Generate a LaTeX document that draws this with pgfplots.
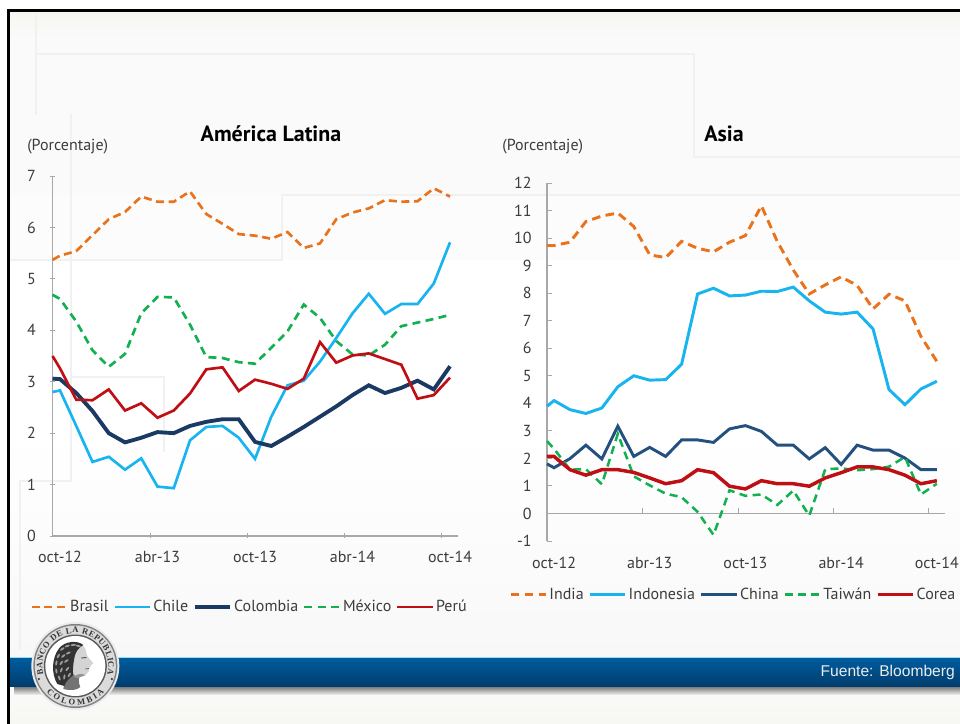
\documentclass[border=0pt]{standalone}
\usepackage{fontspec}
\usepackage{pgfplots}
\usepackage{pgfplotstable}
\pgfplotsset{compat=1.18}
\usetikzlibrary{decorations.text}
\setmainfont{PT Sans}
\newfontfamily\fuente{Liberation Sans}
\newfontfamily\sello{Liberation Serif}[BoldFont={Liberation Serif Bold}]
\definecolor{cOr}{HTML}{E9731C}
\definecolor{cBl}{HTML}{18B4F0}
\definecolor{cNa}{HTML}{1B3A63}
\definecolor{cCh}{HTML}{24507F}
\definecolor{cGr}{HTML}{12B050}
\definecolor{cRe}{HTML}{C00F14}
\definecolor{cTx}{HTML}{3C3C3C}
\definecolor{cAx}{HTML}{A8A8A8}
\definecolor{cFaint}{HTML}{F1F1F1}
\definecolor{cBgA}{HTML}{F6F6F1}
\definecolor{cBgB}{HTML}{FAFAFA}
\definecolor{cBgC}{HTML}{F8F8F8}
\definecolor{cBgD}{HTML}{F7F7F3}

\pgfplotstableread{
x     brasil chile colombia mexico peru
-0.46 5.37 2.80 3.06 4.69 3.50
0  5.45 2.83 3.05 4.61 3.26
1  5.54 2.14 2.78 4.17 2.65
2  5.85 1.44 2.43 3.61 2.64
3  6.16 1.54 2.00 3.29 2.85
4  6.30 1.29 1.82 3.54 2.44
5  6.60 1.51 1.91 4.33 2.58
6  6.50 0.96 2.02 4.65 2.30
7  6.50 0.93 2.00 4.64 2.44
8  6.70 1.86 2.14 4.11 2.77
9  6.26 2.12 2.22 3.48 3.24
10 6.07 2.14 2.27 3.46 3.28
11 5.87 1.91 2.27 3.38 2.82
12 5.84 1.50 1.83 3.35 3.04
13 5.78 2.32 1.75 3.66 2.96
14 5.91 2.93 1.93 3.98 2.86
15 5.60 3.02 2.12 4.50 3.06
16 5.69 3.39 2.32 4.24 3.77
17 6.16 3.85 2.52 3.79 3.37
18 6.29 4.33 2.74 3.53 3.51
19 6.37 4.71 2.93 3.51 3.55
20 6.53 4.32 2.78 3.72 3.44
21 6.50 4.51 2.88 4.08 3.33
22 6.51 4.51 3.02 4.15 2.67
23 6.76 4.91 2.85 4.22 2.74
24 6.60 5.71 3.30 4.30 3.08
}\latam

\pgfplotstableread{
x     india indonesia china taiwan corea
-0.44 9.73 3.89 1.80 2.63 2.07
0  9.73 4.10 1.66 2.35 2.07
1  9.85 3.77 1.99 1.59 1.59
2  10.60 3.63 2.48 1.61 1.39
3  10.80 3.83 1.98 1.06 1.59
4  10.91 4.60 3.17 2.89 1.59
5  10.42 5.00 2.07 1.35 1.49
6  9.39 4.84 2.40 1.02 1.29
7  9.29 4.86 2.07 0.72 1.08
8  9.88 5.42 2.67 0.59 1.19
9  9.63 7.97 2.67 0.06 1.59
10 9.50 8.18 2.58 -0.78 1.48
11 9.85 7.90 3.07 0.84 0.99
12 10.09 7.93 3.19 0.64 0.89
13 11.17 8.07 2.98 0.69 1.19
14 9.87 8.06 2.48 0.31 1.08
15 8.84 8.22 2.48 0.83 1.08
16 7.97 7.72 1.98 -0.08 0.99
17 8.30 7.31 2.39 1.60 1.29
18 8.59 7.24 1.78 1.64 1.48
19 8.28 7.31 2.48 1.57 1.69
20 7.43 6.70 2.30 1.61 1.69
21 7.96 4.50 2.30 1.70 1.59
22 7.72 3.95 2.01 2.05 1.39
23 6.43 4.52 1.59 0.69 1.08
24 5.52 4.80 1.59 1.08 1.19
}\asia

\pgfplotsset{
  panel/.style={
    scale only axis, clip=false,
    /pgf/number format/assume math mode=true,
    tick align=inside,
    major tick length=3.75pt, minor tick length=3.75pt,
    y tick style={draw=cAx,line width=0.7pt},
    major x tick style={draw=none},
    minor x tick style={draw=cAx,line width=0.7pt},
    tick label style={text=cTx,font=\fontsize{12pt}{14pt}\selectfont},
    xtick={0,6,12,18,24},
    xticklabels={oct-12,abr-13,oct-13,abr-14,oct-14},
    legend columns=5,
    legend cell align=left,
    legend style={draw=none,fill=none,inner sep=0pt,outer sep=0pt,
      font=\fontsize{12pt}{14pt}\selectfont,text=cTx,
      anchor=west,
      /tikz/every even column/.append style={column sep=2pt},
      nodes={inner xsep=1.5pt,inner ysep=0pt}},
    legend image code/.code={\draw[##1] (0pt,0pt) -- (26.5pt,0pt);},
  },
  sBr/.style={draw=cOr,line width=2pt,dash pattern=on 6pt off 3.5pt},
  sCl/.style={draw=cBl,line width=2pt},
  sCo/.style={draw=cNa,line width=2.9pt},
  sMx/.style={draw=cGr,line width=2pt,dash pattern=on 6pt off 4pt},
  sPe/.style={draw=cRe,line width=2pt},
  sIn/.style={draw=cOr,line width=2.2pt,dash pattern=on 6.5pt off 4pt},
  sId/.style={draw=cBl,line width=2.2pt},
  sCh/.style={draw=cCh,line width=2.2pt},
  sTw/.style={draw=cGr,line width=1.9pt,dash pattern=on 6pt off 4pt},
  sKo/.style={draw=cRe,line width=2.6pt},
}

\begin{document}
\begin{tikzpicture}
\path[use as bounding box] (0pt,0pt) rectangle (720pt,543pt);
\fill[white] (0pt,0pt) rectangle (720pt,543pt);
\begin{scope}[x=0.75pt,y=-0.75pt,yshift=543pt]
  % slide background
  \shade[top color=cBgA,bottom color=cBgB] (10,12) rectangle (960,38);
  \fill[cBgB] (10,38) rectangle (960,195);
  \fill[white!99!black] (10,195) rectangle (960,260);
  \fill[white] (10,260) rectangle (960,430);
  \shade[top color=white,bottom color=cBgC] (10,430) rectangle (960,658);
  \shade[top color=cBgB,bottom color=cBgD] (10,688) rectangle (960,724);
  % faint geometric lines
  \draw[cFaint,line width=0.8pt] (36,12) -- (36,115);
  \draw[cFaint,line width=0.8pt] (36,54) -- (694,54) -- (694,157) -- (960,157);
  \draw[cFaint,line width=0.8pt] (960,195) -- (282,195) -- (282,260) -- (10,260);
  \draw[cFaint,line width=0.8pt] (71,114) -- (71,481) -- (20,481) -- (20,650);
  \draw[cFaint,line width=0.8pt] (71,377) -- (164,377) -- (164,452);
  % frame
  \fill[black] (7,9) rectangle (960,12);
  \fill[black] (7,9) rectangle (10,724);
  % banner
  \shade[top color={rgb,255:red,125;green,125;blue,125},bottom color={rgb,255:red,245;green,245;blue,245}] (14,687) rectangle (960,695);
  \shade[top color={rgb,255:red,0;green,92;blue,158},bottom color={rgb,255:red,0;green,60;blue,108}] (10,658) rectangle (960,687);
  \fill[white!55!cBl] (10,657.5) rectangle (960,658.3);
  \node[anchor=east,text=white!92!black,font=\fuente\fontsize{11.7pt}{13pt}\selectfont,inner sep=0pt] at (955,672) {Fuente: Bloomberg};
  % headings
  \node[font=\bfseries\fontsize{16.5pt}{19pt}\selectfont,text=black,inner sep=0pt] at (271,134) {América Latina};
  \node[font=\bfseries\fontsize{16.5pt}{19pt}\selectfont,text=black,inner sep=0pt] at (724,134) {Asia};
  \node[font=\fontsize{12pt}{14pt}\selectfont,text=cTx,inner sep=0pt,anchor=west] at (27,146.5) {(Porcentaje)};
  \node[font=\fontsize{12pt}{14pt}\selectfont,text=cTx,inner sep=0pt,anchor=west] at (502,147) {(Porcentaje)};
\end{scope}

\begin{axis}[panel,
  at={(39.375pt,141pt)},anchor=south west,
  width=304.125pt,height=270pt,
  axis x line=bottom,axis y line=left,
  x axis line style={draw=cAx,line width=0.8pt,-},
  y axis line style={draw=cAx,line width=0.8pt,-},
  xmin=-0.4615,xmax=24.49,ymin=0,ymax=7,
  ytick={0,1,2,3,4,5,6,7},
  minor xtick={5.54,11.53,17.52,23.49},
  yticklabel style={xshift=-7pt},
  xticklabel style={yshift=-6pt},
  legend style={at={(axis description cs:-0.055,-0.197)}},
]
\addplot[sBr] table[x=x,y=brasil]{\latam};
\addlegendentry{Brasil}
\addplot[sCl] table[x=x,y=chile]{\latam};
\addlegendentry{Chile}
\addplot[sCo] table[x=x,y=colombia]{\latam};
\addlegendentry{Colombia}
\addplot[sMx] table[x=x,y=mexico]{\latam};
\addlegendentry{México}
\addplot[sPe] table[x=x,y=peru]{\latam};
\addlegendentry{Perú}
\end{axis}

\begin{axis}[panel,
  at={(410.25pt,137.25pt)},anchor=south west,
  width=298.5pt,height=268.5pt,
  axis x line=middle,axis y line=left,
  x axis line style={draw=cAx,line width=0.8pt,-},
  y axis line style={draw=cAx,line width=0.8pt,-},
  tick align=inside,
  xmin=-0.439,xmax=24.51,ymin=-1,ymax=12,
  ytick={-1,0,1,2,3,4,5,6,7,8,9,10,11,12},
  minor xtick={5.56,11.54,17.49,23.5},
  yticklabel style={xshift=-8pt},
  xticklabel style={yshift=-29.5pt},
  legend style={at={(axis description cs:-0.095,-0.15)}},
]
\addplot[sIn] table[x=x,y=india]{\asia};
\addlegendentry{India}
\addplot[sId] table[x=x,y=indonesia]{\asia};
\addlegendentry{Indonesia}
\addplot[sCh] table[x=x,y=china]{\asia};
\addlegendentry{China}
\addplot[sTw] table[x=x,y=taiwan]{\asia};
\addlegendentry{Taiwán}
\addplot[sKo] table[x=x,y=corea]{\asia};
\addlegendentry{Corea}
\end{axis}

% seal of the bank
\begin{scope}[shift={(56.5pt,43.5pt)},x=0.75pt,y=0.75pt]
  \fill[black!8] (0,0) circle (44);
  \fill[black!50] (0,0) circle (42);
  \fill[black!14] (0,0) circle (40.5);
  \fill[black!65] (0,0) circle (31.5);
  \fill[white] (0,0) circle (30);
  \path[postaction={decorate,decoration={text along path,text align={fit to path},
    text={|\sello\bfseries\fontsize{6.4pt}{7pt}\selectfont\color{black!80}|BANCO DE LA REPUBLICA}}}]
    (195:33) arc[start angle=195,end angle=-15,radius=33];
  \path[postaction={decorate,decoration={text along path,text align={fit to path},
    text={|\sello\bfseries\fontsize{6.4pt}{7pt}\selectfont\color{black!80}|COLOMBIA}}}]
    (222:39) arc[start angle=222,end angle=318,radius=39];
  \fill[black!75] (-36.5,-13) circle (1.3);
  \fill[black!75] (36.5,-13) circle (1.3);
  % head in profile: neck, face, hair, wreath
  \fill[black!55] (-9,-8) -- (-12,-23) .. controls (-4,-25) and (2,-24) .. (5,-21)
     .. controls (3,-17) and (3,-12) .. (5,-8) -- cycle;
  \fill[black!17] (-4,24) .. controls (6,24) and (11,19) .. (11,13)
     .. controls (12,9) and (14,7) .. (18,3)
     .. controls (16,1) and (15,0) .. (14,-2) .. controls (15,-4) and (13,-6) .. (12,-7)
     .. controls (10,-11) and (6,-10) .. (3,-11) .. controls (-2,-10) and (-8,-4) .. (-6,8) -- cycle;
  \fill[black!42] (-2,-11) .. controls (2,-8) and (6,-7) .. (10,-9)
     .. controls (6,-11) and (4,-11) .. (3,-12) -- cycle;
  \draw[black!70,line width=0.7pt] (6,8) -- (11,8.5);
  \draw[black!60,line width=0.6pt] (10,-3) -- (13.5,-2.5);
  \fill[black!80] (-18,-18) .. controls (-24,-8) and (-24,8) .. (-16,18)
     .. controls (-10,25) and (2,26) .. (8,21)
     .. controls (3,18) and (0,14) .. (-1,8)
     .. controls (-2,2) and (-3,-4) .. (-2,-9)
     .. controls (-6,-12) and (-10,-16) .. (-11,-20) -- cycle;
  \foreach \a/\b/\r in {-13/17/35,-8/20/20,-2/21/5,3/20/-15,-17/10/60,-12/10/40,-7/13/25,-19/3/80,-14/3/55,-9/5/35,-19/-5/100,-14/-4/70,-8/-3/50,-16/-12/110,-11/-11/80,-6/-9/60}
    \fill[black!38,rotate around={\r:(\a,\b)}] (\a,\b) ellipse (2.6 and 1);
\end{scope}
\end{tikzpicture}
\end{document}
